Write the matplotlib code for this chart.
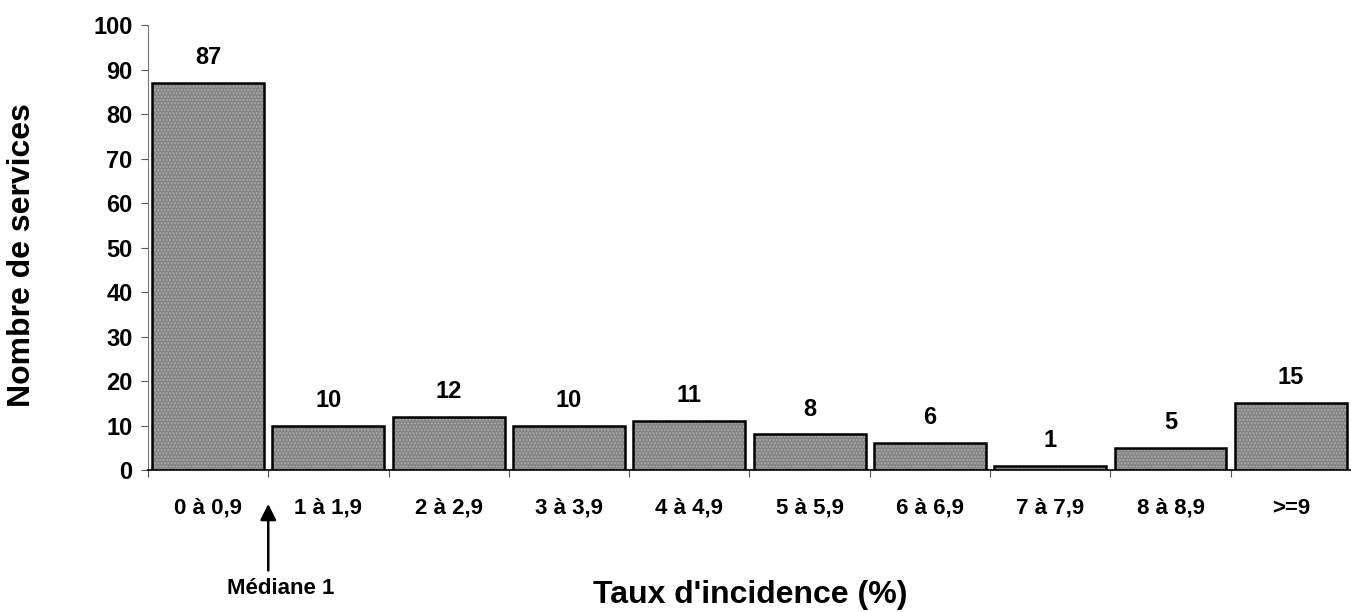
import matplotlib
matplotlib.use("Agg")
import matplotlib.pyplot as plt

categories = ["0 à 0,9", "1 à 1,9", "2 à 2,9", "3 à 3,9", "4 à 4,9",
              "5 à 5,9", "6 à 6,9", "7 à 7,9", "8 à 8,9", ">=9"]
values = [87, 10, 12, 10, 11, 8, 6, 1, 5, 15]
yticks = [0, 10, 20, 30, 40, 50, 60, 70, 80, 90, 100]

plt.rcParams['font.family'] = ['Liberation Sans', 'DejaVu Sans']
plt.rcParams['font.weight'] = 'bold'
plt.rcParams['hatch.linewidth'] = 1.0

fig = plt.figure(figsize=(13.51, 6.12), dpi=100)
ax = fig.add_axes([0.1095, 0.232, 0.8905, 0.727])

x = list(range(len(categories)))
w = 0.93
ax.bar(x, values, width=w, color='#858585', edgecolor='none', zorder=2)
ax.bar(x, values, width=w, facecolor='none', edgecolor='#a8a8a8', hatch='.....', linewidth=0, zorder=3)
ax.bar(x, values, width=w, facecolor='none', edgecolor='black', linewidth=1.8, zorder=4)

for xi, v in zip(x, values):
    ax.annotate(str(v), (xi, v), xytext=(0, 10), textcoords='offset points',
                ha='center', va='bottom', fontsize=17, fontweight='bold')

ax.set_xlim(-0.5, 9.5)
ax.set_ylim(0, 100)
ax.set_yticks(yticks)
ax.set_yticklabels([str(t) for t in yticks], fontsize=17, fontweight='bold')
ax.set_xticks(x)
ax.set_xticklabels(categories, fontsize=16, fontweight='bold')
ax.set_xticks([i - 0.5 for i in range(len(categories) + 1)], minor=True)
ax.tick_params(axis='x', which='major', length=0, pad=20)
ax.tick_params(axis='x', which='minor', length=5, width=0.8, color='#555555')
ax.tick_params(axis='y', which='major', length=5, width=0.8, color='#555555', pad=6)

for s in ['top', 'right']:
    ax.spines[s].set_visible(False)
ax.spines['left'].set_color('#777777')
ax.spines['bottom'].set_color('black')
ax.spines['bottom'].set_linewidth(1.2)

fig.text(0.0163, 0.583, "Nombre de services", rotation=90, ha='center', va='center',
         fontsize=23, fontweight='bold')
fig.text(0.555, 0.028, "Taux d'incidence (%)", ha='center', va='center',
         fontsize=23, fontweight='bold')

ax.annotate("Médiane 1", xy=(0.5, 0), xycoords='data',
            xytext=(0.208, 0.0376), textcoords='figure fraction',
            ha='center', va='center', fontsize=16, fontweight='bold')
ax.annotate("", xy=(0.5, -0.07), xycoords=('data', 'axes fraction'),
            xytext=(0.5, -0.232), textcoords=('data', 'axes fraction'),
            arrowprops=dict(arrowstyle='-|>', color='black', lw=1.8, mutation_scale=24))

fig.savefig("out.png", dpi=100)
